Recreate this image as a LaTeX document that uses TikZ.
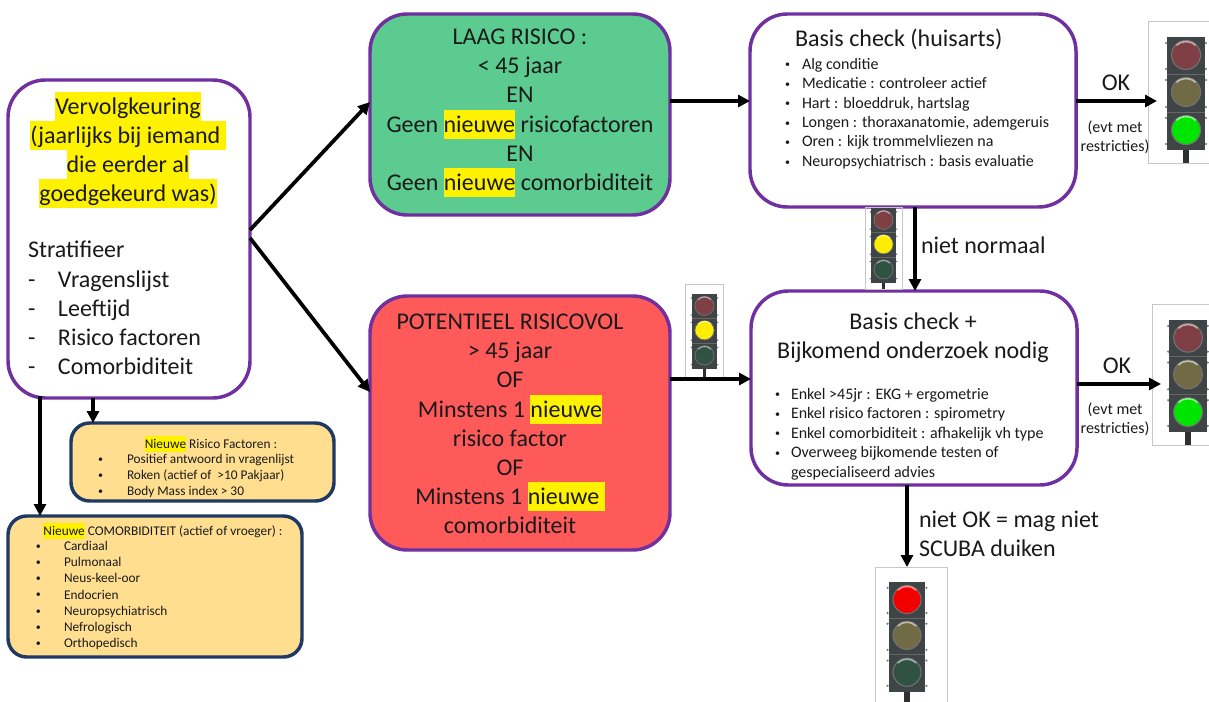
\documentclass[tikz,border=0pt]{standalone}
\usepackage{fontspec}
\setmainfont{Carlito}
\usetikzlibrary{arrows.meta}
\definecolor{purp}{HTML}{7030A0}
\definecolor{navy}{HTML}{1F3864}
\definecolor{gbox}{HTML}{5CCB8F}
\definecolor{rbox}{HTML}{FF5A5A}
\definecolor{ybox}{HTML}{FFDE8F}
\definecolor{txt}{HTML}{1A1A1A}
\definecolor{hous}{HTML}{3F4446}
\definecolor{offr}{HTML}{7E3F45}
\definecolor{offy}{HTML}{716B45}
\definecolor{offg}{HTML}{2F5242}
\newcommand{\hlt}[1]{{\setlength{\fboxsep}{0pt}\colorbox{yellow}{\rule[-0.27em]{0pt}{1.2em}#1}}}
\newcommand{\bul}[2]{\makebox[\dimexpr 0.75pt*#1\relax][l]{\raisebox{0.08em}{\fontsize{7.5}{7.5}\selectfont\textbullet}}#2}
\newcommand{\boxn}[6]{\node[#1,minimum width={(#5-#3)*0.75pt},minimum height={(#6-#4)*0.75pt}] (#2) at ({(#3+#5)/2},{(#4+#6)/2}) {};}
% name, cx, top, scale, r/y/g on colours, frame l t r b
\newcommand{\tlight}[9]{%
  \node[tframe,minimum width={(#8-#6)*0.75pt},minimum height={(#9-#7)*0.75pt}] (#1) at ({(#6+#8)/2},{(#7+#9)/2}) {};
  \begin{scope}[shift={(#2,#3)},x=#4*0.75pt,y=-#4*0.75pt]
    \fill[hous!70!black] (-3,112) rectangle (3,{(#9-#3)/#4});
    \fill[hous] (-19,0) rectangle (19,113);
    \foreach \yy in {37,75}{\draw[black!60,line width=0.4pt] (-19,\yy) -- (19,\yy);}
    \foreach \yy in {6,32,43,70,81,107}{\fill[black!55] (-20,\yy) circle (1.2) (20,\yy) circle (1.2);}
    \foreach \yy/\cc in {18/#5,55/\tlB,93/\tlC}{
      \fill[fill=\cc,draw=black!55,line width=#4*0.8pt] (0,\yy) circle (14.5);
      \draw[\cc!45!white,line width=#4*1.2pt] (0,\yy) ++(225:13.5) arc (225:315:13.5);
    }
  \end{scope}}
\tikzset{
  pbox/.style={draw=purp,line width=2.6pt,rounded corners=28pt,inner sep=0pt,outer sep=0pt,fill=white},
  dbox/.style={draw=navy,line width=2.6pt,rounded corners=14pt,inner sep=0pt,outer sep=0pt,fill=ybox},
  tframe/.style={draw=black!22,line width=0.6pt,inner sep=0pt,outer sep=0pt},
  arr/.style={draw=black,line width=2.8pt,-{Triangle[length=9pt,width=9pt]}},
  big/.style={inner sep=0pt,outer sep=0pt,text=txt,font=\fontsize{18}{21.9}\selectfont},
  mid/.style={inner sep=0pt,outer sep=0pt,text=txt,font=\fontsize{12}{14.6}\selectfont},
  sml/.style={inner sep=0pt,outer sep=0pt,text=txt,font=\fontsize{10}{12.05}\selectfont},
}
\begin{document}
\begin{tikzpicture}[x=0.75pt,y=-0.75pt]
\path[use as bounding box,fill=white] (0,0) rectangle (1209,702);
% boxes
\boxn{pbox}{L}{8}{80}{250}{398}
\boxn{pbox,fill=gbox}{G}{370}{14}{670}{215}
\boxn{pbox,fill=rbox}{R}{370}{296}{670}{550}
\boxn{pbox}{B}{750}{14}{1076}{207}
\boxn{pbox}{P}{751}{291}{1077}{485}
\boxn{dbox}{K}{71}{423}{334}{501}
\boxn{dbox}{C}{8}{516}{302}{657}
% lights
\def\tlB{offy}\def\tlC{green!90!black}
\tlight{T1}{1186}{37}{1}{offr}{1148}{21}{1209}{163}
\tlight{T2}{1188}{320}{0.99}{offr}{1152}{304}{1209}{445}
\def\tlB{yellow!95!orange}\def\tlC{offg}
\tlight{T3}{883.5}{208}{0.66}{offr}{865}{207}{902}{289}
\tlight{T4}{704.5}{294}{0.66}{offr}{685}{284}{723}{377}
\def\tlB{offy}\def\tlC{offg}
\tlight{T5}{907}{582}{0.97}{red!95!black}{875}{567}{947}{702}
% texts
\node[big,align=center] (Lt) at (128,150) {\hlt{Vervolgkeuring}\\\hlt{(jaarlijks bij iemand }\\\hlt{die eerder al}\\\hlt{goedgekeurd was)}};
\node[big,align=left,anchor=west] (Ls) at (28,308) {Stratifieer\\\makebox[22.5pt][l]{-}Vragenslijst\\\makebox[22.5pt][l]{-}Leeftijd\\\makebox[22.5pt][l]{-}Risico factoren\\\makebox[22.5pt][l]{-}Comorbiditeit};
\node[big,align=center] (Gt) at (520,113) {LAAG RISICO :\\< 45 jaar\\EN\\Geen \hlt{nieuwe} risicofactoren\\EN\\Geen \hlt{nieuwe} comorbiditeit};
\node[big,align=center] (Rt) at (510,424) {POTENTIEEL RISICOVOL\\> 45 jaar\\OF\\Minstens 1 \hlt{nieuwe}\\risico factor\\OF\\Minstens 1 \hlt{nieuwe }\\comorbiditeit};
\node[big,anchor=west] (Bt) at (795,39.5) {Basis check (huisarts)};
\node[mid,align=left,anchor=west] (Bl) at (785,113.5) {\bul{17}{Alg conditie}\\\bul{17}{Medicatie : controleer actief}\\\bul{17}{Hart : bloeddruk, hartslag}\\\bul{17}{Longen : thoraxanatomie, ademgeruis}\\\bul{17}{Oren : kijk trommelvliezen na}\\\bul{17}{Neuropsychiatrisch : basis evaluatie}};
\node[big,align=center] (Pt) at (913,338) {Basis check +\\Bijkomend onderzoek nodig};
\node[mid,align=left,anchor=west] (Pl) at (775,434) {\bul{16}{Enkel >45jr : EKG + ergometrie}\\\bul{16}{Enkel risico factoren : spirometry}\\\bul{16}{Enkel comorbiditeit : afhakelijk vh type}\\\bul{16}{Overweeg bijkomende testen of}\\\makebox[12pt]{}gespecialiseerd advies};
\node[sml] (Kt) at (211,444) {\hlt{Nieuwe} Risico Factoren :};
\node[sml,align=left,anchor=west] (Kl) at (98,476) {\bul{29}{Positief antwoord in vragenlijst}\\\bul{29}{Roken (actief of~ >10 Pakjaar)}\\\bul{29}{Body Mass index > 30}};
\node[sml] (Ct) at (163,531) {\hlt{Nieuwe} COMORBIDITEIT (actief of vroeger) :};
\node[sml,align=left,anchor=west] (Cl) at (36,595.5) {\bul{28}{Cardiaal}\\\bul{28}{Pulmonaal}\\\bul{28}{Neus-keel-oor}\\\bul{28}{Endocrien}\\\bul{28}{Neuropsychiatrisch}\\\bul{28}{Nefrologisch}\\\bul{28}{Orthopedisch}};
\node[big,anchor=center] (ok1) at (1116,83) {OK};
\node[mid,align=center] (ev1) at (1115,137.5) {(evt met\\restricties)};
\node[big,anchor=center] (ok2) at (1117,366) {OK};
\node[mid,align=center] (ev2) at (1115,419) {(evt met\\restricties)};
\node[big,anchor=west] (nn) at (921,245) {niet normaal};
\node[big,align=left,anchor=west] (no) at (919,534) {niet OK = mag niet\\SCUBA duiken};
% connectors
\coordinate (La) at (250,230);
\coordinate (Lb) at (250,238);
\coordinate (Ga) at (370,102);
\coordinate (Ra) at (370,392);
\coordinate (Gb) at (670,101);
\coordinate (Ba) at (750,101);
\coordinate (Bb) at (915,207);
\coordinate (Pa) at (915,291);
\coordinate (Rb) at (670,379);
\coordinate (Pb) at (751,379);
\coordinate (Bc) at (1076,101);
\coordinate (T1a) at (1157,101);
\coordinate (Pc) at (1077,384);
\coordinate (T2a) at (1161,384);
\coordinate (Pd) at (907,485);
\coordinate (T5a) at (907,567);
\coordinate (Lc) at (93,398);
\coordinate (Ka) at (93,423);
\coordinate (Ld) at (40,396);
\coordinate (Ca) at (40,516);
\draw[arr] (La) -- (Ga);
\draw[arr] (Lb) -- (Ra);
\draw[arr] (Gb) -- (Ba);
\draw[arr] (Bb) -- (Pa);
\draw[arr] (Rb) -- (Pb);
\draw[arr] (Bc) -- (T1a);
\draw[arr] (Pc) -- (T2a);
\draw[arr] (Pd) -- (T5a);
\draw[arr] (Lc) -- (Ka);
\draw[arr] (Ld) -- (Ca);
\end{tikzpicture}
\end{document}
